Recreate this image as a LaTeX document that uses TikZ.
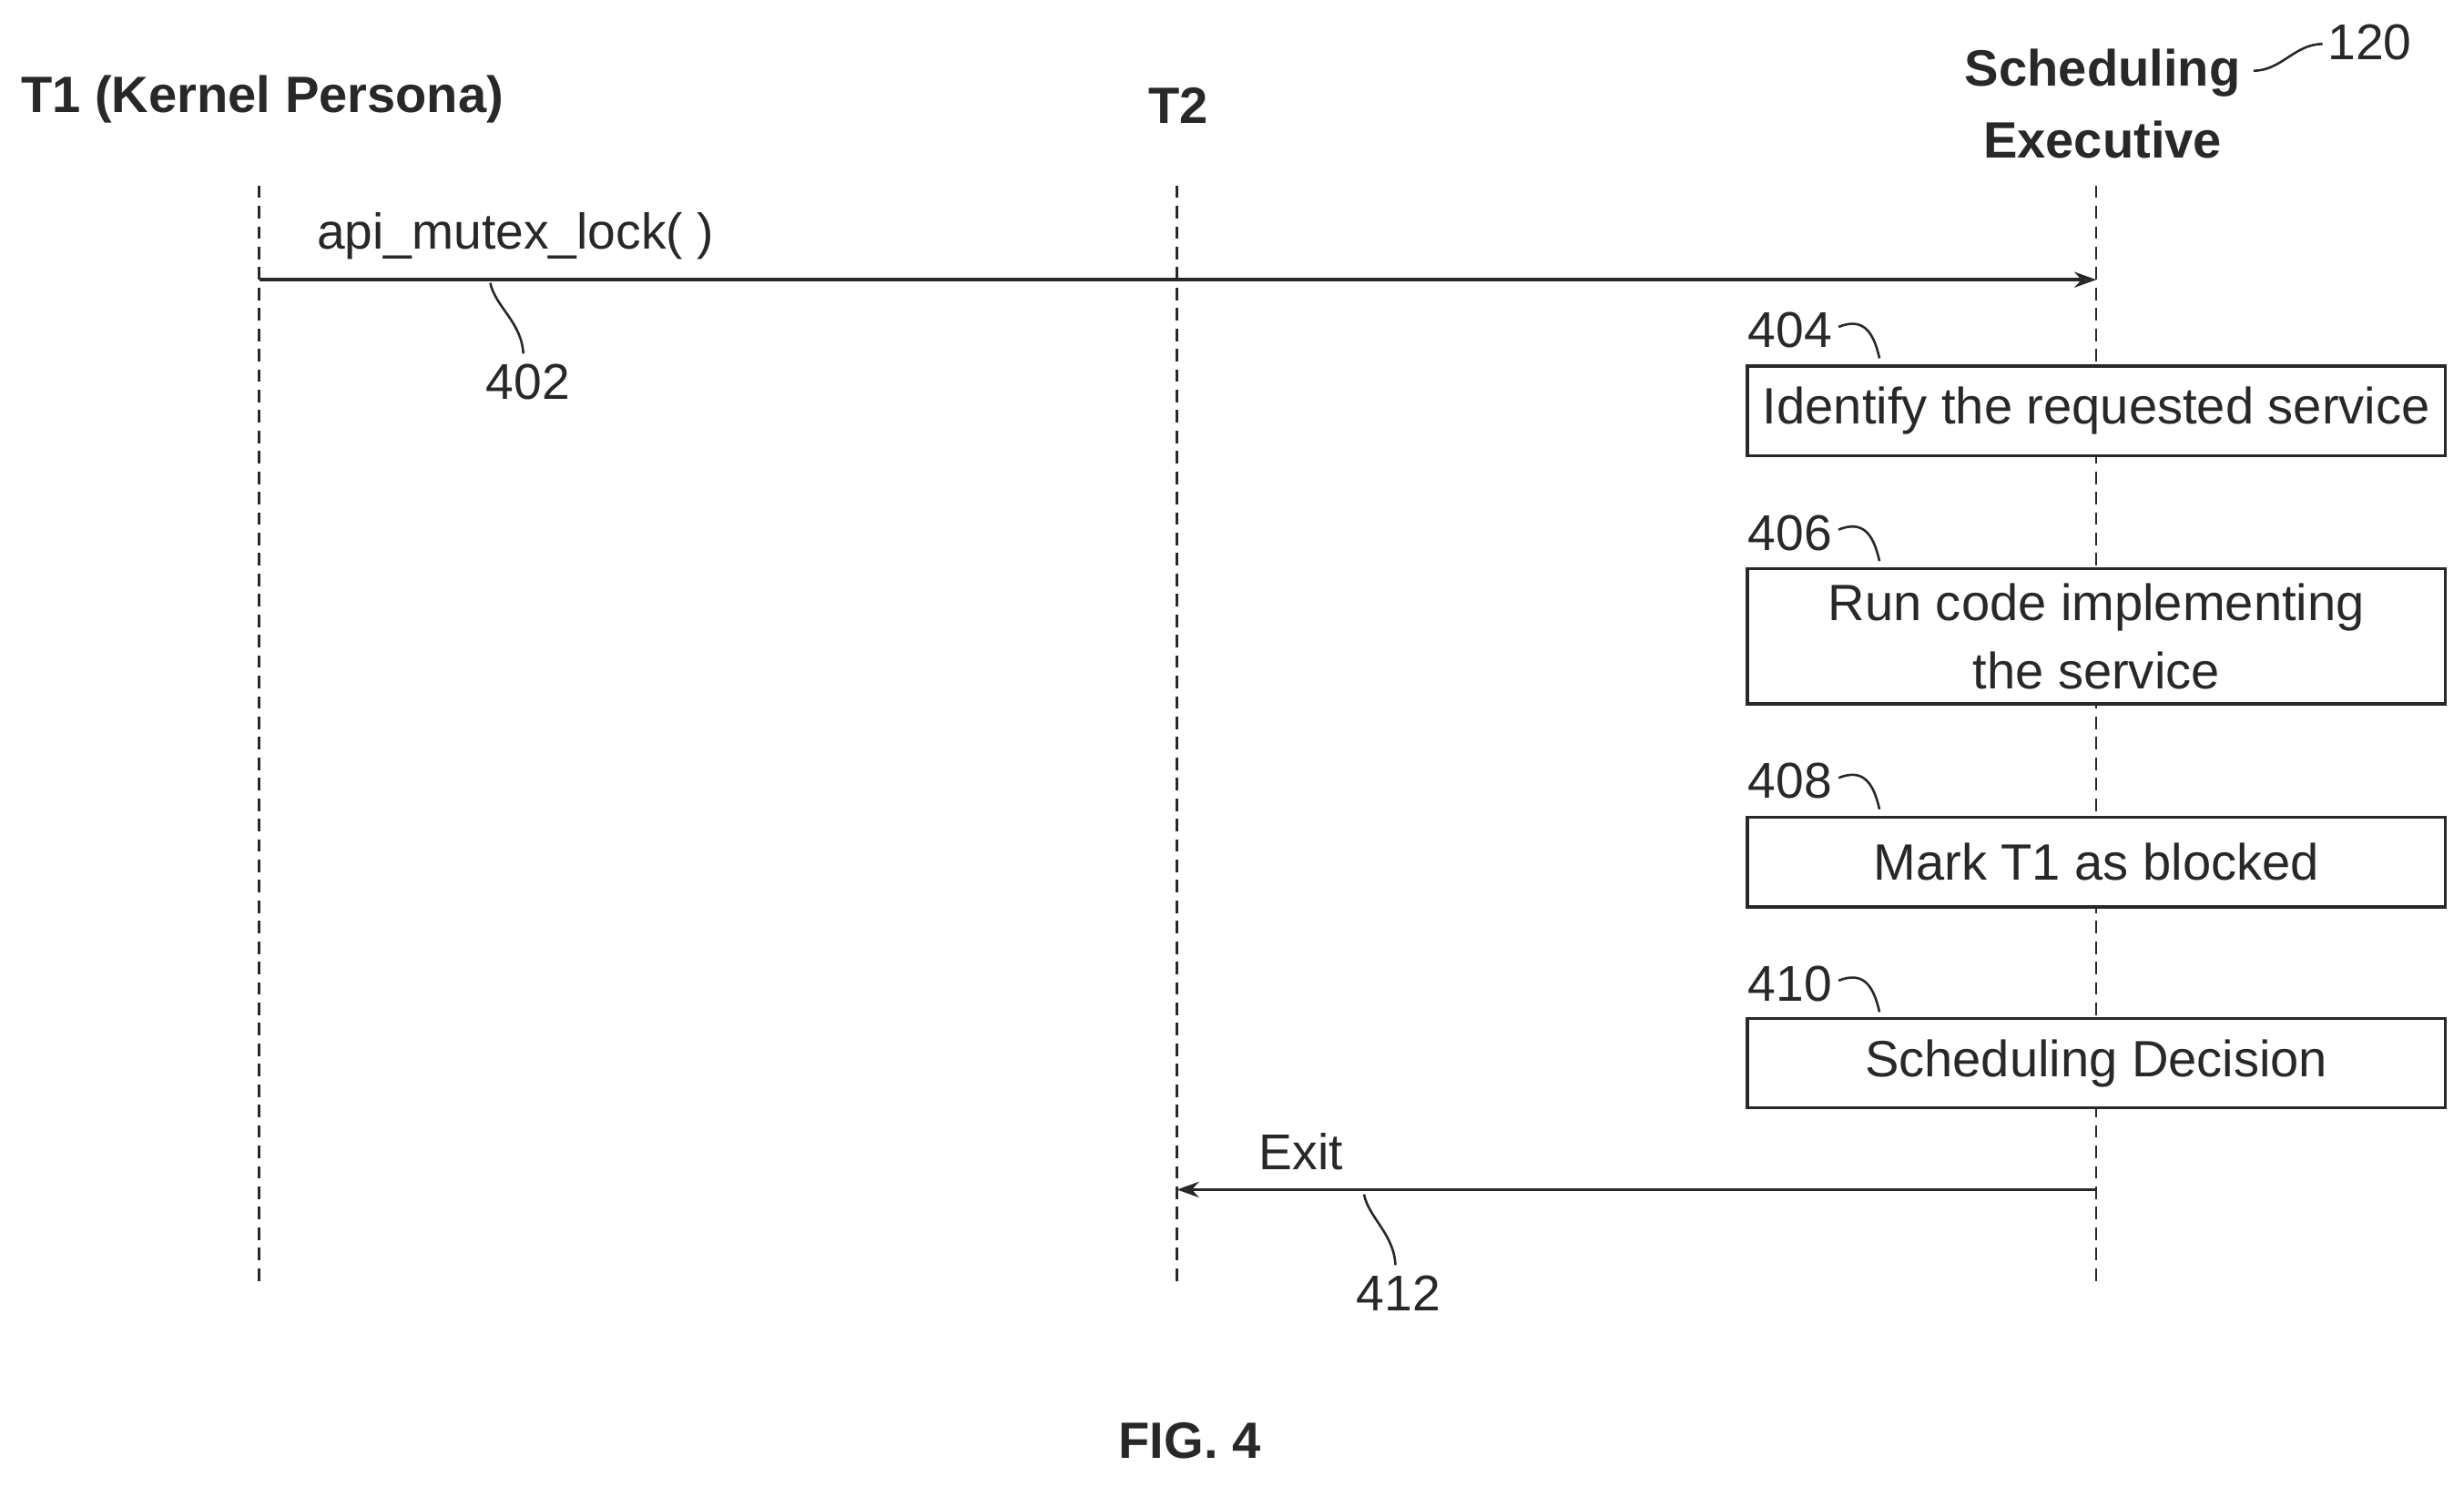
\documentclass[tikz,border=0pt]{standalone}
\usepackage{fontspec}
\setmainfont{Liberation Sans}
\usetikzlibrary{arrows.meta}
\definecolor{ink}{RGB}{40,40,40}
\begin{document}
\begin{tikzpicture}[x=1pt,y=-1pt,
  life/.style={draw=ink,line width=1.5pt,dash pattern=on 8pt off 5pt},
  msg/.style={draw=ink,line width=2pt,-{Stealth[open,length=14pt,width=10pt]}},
  box/.style={draw=ink,line width=2pt,minimum width=444pt,inner sep=0pt,align=center,text=ink,font=\fontsize{32.5}{44}\selectfont},
  txt/.style={text=ink,font=\fontsize{32}{36}\selectfont,inner sep=0pt},
  hdr/.style={text=ink,font=\bfseries\fontsize{32.5}{46}\selectfont,inner sep=0pt,align=center},
  sq/.style={draw=ink,line width=1.5pt}]
\useasboundingbox (0,0) rectangle (1568,946);
\node[hdr] (h1) at (167,63) {T1 (Kernel Persona)};
\node[hdr] (h2) at (750,67) {T2};
\node[hdr] (h3) at (1338,66) {Scheduling\\Executive};
\node[txt] (n120) at (1508,27) {120};
\draw[sq] (1434,45) .. controls (1452,45) and (1460,28) .. (1478,28);
\coordinate (t1) at (165,118); \coordinate (b1) at (165,815);
\coordinate (t2) at (749,118); \coordinate (b2) at (749,815);
\coordinate (t3) at (1334,118); \coordinate (b3) at (1334,815);
\draw[life] (t1) -- (b1);
\draw[life] (t2) -- (b2);
\draw[life] (t3) -- (b3);
\coordinate (a1) at (165,178); \coordinate (a2) at (1334,178);
\draw[msg] (a1) -- (a2);
\node[txt] (l402) at (328,150) {api\_mutex\_lock( )};
\draw[sq] (312,180) .. controls (315,195) and (332,205) .. (333,225);
\node[txt] (n402) at (336,243) {402};
\node[box,fill=white,minimum height=57pt] (b404) at (1334,261.5) {Identify the requested service};
\node[box,fill=white,minimum height=86pt] (b406) at (1334,405) {Run code implementing\\the service};
\node[box,fill=white,minimum height=57pt] (b408) at (1334,548.5) {Mark T1 as blocked};
\node[box,fill=white,minimum height=57pt] (b410) at (1334,676.5) {Scheduling Decision};
\foreach \n/\y in {404/210,406/339,408/497,410/626}{
  \node[txt] (n\n) at (1139,\y) {\n};
  \draw[sq] (1170,\y-2) .. controls (1185,\y-8) and (1192,\y) .. (1196,\y+18);
}
\coordinate (e1) at (1334,757); \coordinate (e2) at (749,757);
\draw[msg] (e1) -- (e2);
\node[txt] (lexit) at (828,733) {Exit};
\draw[sq] (868,760) .. controls (871,775) and (887,785) .. (888,805);
\node[txt] (n412) at (890,823) {412};
\node[hdr] (fig) at (757,917) {FIG. 4};
\end{tikzpicture}
\end{document}
